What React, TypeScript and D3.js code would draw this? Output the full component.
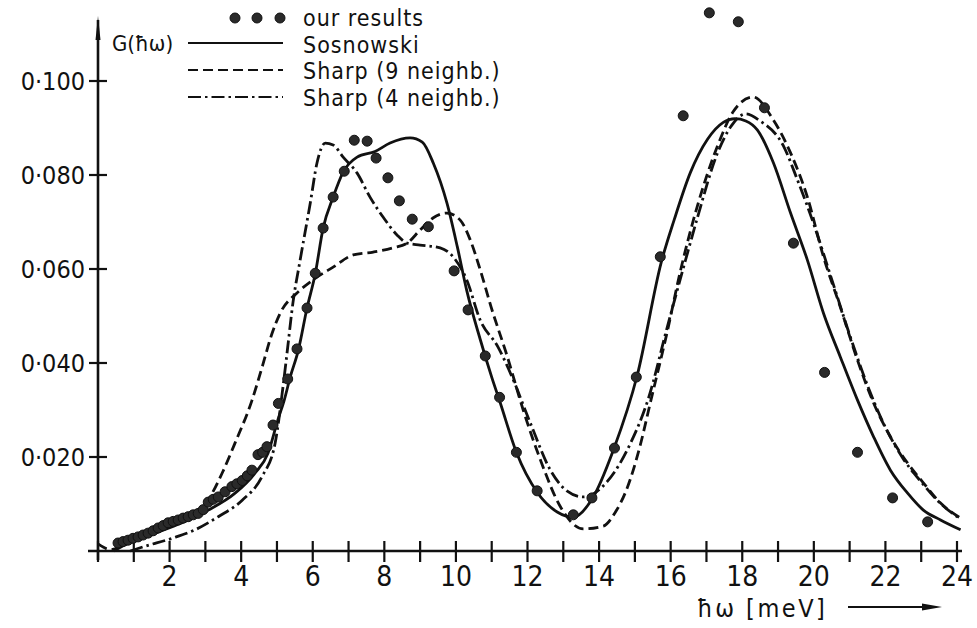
import React from "react";
import * as d3 from "d3";

const xTicks = [0,1,2,3,4,5,6,7,8,9,10,11,12,13,14,15,16,17,18,19,20,21,22,23,24];
const xTickLabels = ["2","4","6","8","10","12","14","16","18","20","22","24"];
const xTickLabelValues = [2,4,6,8,10,12,14,16,18,20,22,24];
const yTicks = [0.02, 0.04, 0.06, 0.08, 0.1];
const yTickLabels = ["0·020", "0·040", "0·060", "0·080", "0·100"];

const legendLabels = ["our results", "Sosnowski", "Sharp (9 neighb.)", "Sharp (4 neighb.)"];

const ourResults: [number, number][] = [
  [0.56,0.0017],[0.7,0.002],[0.84,0.0023],[0.98,0.0027],[1.12,0.003],[1.26,0.0034],[1.4,0.0038],
  [1.54,0.0043],[1.68,0.0049],[1.82,0.0054],[1.96,0.006],[2.1,0.0063],[2.24,0.0066],[2.38,0.007],
  [2.52,0.0073],[2.66,0.0077],[2.8,0.008],[2.94,0.0088],[3.08,0.0104],[3.22,0.011],[3.36,0.0115],
  [3.55,0.0126],[3.74,0.0137],[3.88,0.0143],[4.03,0.015],[4.17,0.016],[4.3,0.0172],[4.47,0.0205],
  [4.6,0.021],[4.72,0.0222],[4.89,0.0268],[5.04,0.0314],[5.3,0.0366],[5.56,0.043],[5.84,0.0517],
  [6.07,0.0591],[6.29,0.0687],[6.57,0.0753],[6.88,0.0808],[7.16,0.0874],[7.52,0.0872],[7.77,0.0836],
  [8.1,0.0794],[8.42,0.0745],[8.78,0.0706],[9.23,0.069],[9.95,0.0596],[10.34,0.0513],[10.82,0.0415],
  [11.22,0.0327],[11.69,0.021],[12.27,0.0128],[13.28,0.0077],[13.8,0.0113],[14.43,0.0219],[15.04,0.037],
  [15.71,0.0626],[16.35,0.0926],[17.08,0.1145],[17.89,0.1126],[18.62,0.0943],[19.43,0.0655],[20.3,0.038],
  [21.22,0.021],[22.2,0.0113],[23.18,0.0062]
];

const sosnowski: [number, number][] = [
  [0.45,0],[0.84,0.0017],[1.6,0.0038],[2.35,0.006],[3.08,0.0087],[3.83,0.0123],[4.39,0.0166],
  [4.75,0.0208],[5.03,0.028],[5.2,0.032],[5.37,0.037],[5.6,0.0428],[5.84,0.0517],[6.07,0.059],
  [6.29,0.0687],[6.57,0.0753],[6.85,0.0806],[7.24,0.0838],[7.74,0.085],[8.16,0.0868],[8.72,0.0879],
  [9.06,0.087],[9.37,0.0825],[9.75,0.074],[10.04,0.0647],[10.3,0.0555],[10.68,0.045],[11.0,0.037],
  [11.24,0.0315],[11.69,0.021],[12.27,0.0125],[12.83,0.0083],[13.28,0.0072],[13.8,0.011],[14.4,0.0215],
  [15.07,0.0375],[15.74,0.0615],[16.1,0.0705],[16.55,0.0805],[17.03,0.0876],[17.47,0.0912],[17.8,0.092],
  [18.1,0.0915],[18.42,0.0896],[18.87,0.0826],[19.35,0.0719],[19.82,0.0619],[20.27,0.0506],[20.74,0.0413],
  [21.22,0.0321],[21.67,0.0243],[22.14,0.0172],[22.62,0.0123],[23.06,0.0087],[23.54,0.0066],[24.1,0.0045]
];

const sharp9: [number, number][] = [
  [0,0.0015],[0.35,0.0003],[0.7,0.0012],[1.2,0.0027],[1.8,0.0045],[2.4,0.0065],[2.9,0.009],[3.13,0.0115],
  [3.47,0.0166],[3.83,0.023],[4.3,0.032],[4.6,0.0395],[4.85,0.046],[5.09,0.0506],[5.56,0.0549],[6.01,0.0577],
  [6.57,0.0604],[7.13,0.063],[7.69,0.0636],[8.25,0.0645],[8.64,0.0655],[9.0,0.0683],[9.37,0.0709],[9.75,0.0719],
  [10.12,0.0704],[10.4,0.0662],[10.68,0.0598],[10.98,0.052],[11.43,0.0415],[11.88,0.03],[12.36,0.0194],
  [12.92,0.0094],[13.56,0.0047],[14.12,0.0053],[14.45,0.0082],[14.79,0.0135],[15.15,0.0225],[15.43,0.0315],
  [15.9,0.0465],[16.27,0.0595],[16.75,0.0735],[17.3,0.086],[17.75,0.0935],[18.3,0.0966],[18.87,0.0917],
  [19.35,0.0847],[19.82,0.0753],[20.27,0.0626],[20.74,0.0519],[21.22,0.0406],[21.67,0.0315],[22.14,0.0243],
  [22.62,0.0187],[23.06,0.0145],[23.54,0.0102],[24.1,0.007]
];

const sharp4: [number, number][] = [
  [0.9,0],[1.31,0.001],[2.07,0.0027],[2.71,0.0045],[3.36,0.0073],[4.03,0.0108],[4.58,0.0158],[4.95,0.023],
  [5.17,0.035],[5.28,0.042],[5.45,0.053],[5.65,0.062],[5.93,0.074],[6.12,0.0826],[6.35,0.0868],[6.57,0.0864],
  [6.85,0.0838],[7.24,0.0804],[7.6,0.0753],[7.97,0.071],[8.36,0.0672],[8.64,0.0655],[9.0,0.0651],[9.56,0.0645],
  [9.92,0.0626],[10.3,0.0577],[10.68,0.0491],[11.17,0.0435],[11.57,0.037],[12.08,0.0272],[12.64,0.0172],
  [13.1,0.0128],[13.56,0.0115],[14.23,0.0148],[14.87,0.0228],[15.38,0.0325],[15.9,0.0475],[16.47,0.0634],
  [16.75,0.071],[17.3,0.0845],[17.7,0.0905],[18.1,0.093],[18.5,0.0915],[19.15,0.0862],[19.54,0.079],
  [20.0,0.0695],[20.5,0.0578],[21.0,0.046],[21.5,0.0352],[22.0,0.0263],[22.5,0.0196],[23.0,0.0147],
  [23.54,0.0101],[24.1,0.0068]
];

const W = 977;
const H = 628;
const FONT = "'DejaVu Sans Condensed', 'DejaVu Sans', sans-serif";

export default function App() {
  const x = d3.scaleLinear().domain([0, 24]).range([98, 957]);
  const y = d3.scaleLinear().domain([0, 0.1]).range([551, 81]);
  const line = d3
    .line<[number, number]>()
    .x((d) => x(d[0]))
    .y((d) => y(d[1]))
    .curve(d3.curveMonotoneX);

  const ink = "#111";
  const sw = 2.8;

  return (
    <div style={{ position: "absolute", left: 0, top: 0 }}>
      <svg width={W} height={H} style={{ display: "block", background: "#fff" }}>
        {/* axes */}
        <line x1={x(0)} x2={x(0)} y1={20} y2={560} stroke={ink} strokeWidth={2.6} />
        <path d={`M${x(0) - 2.5},40 L${x(0)},16 L${x(0) + 2.5},40 Z`} fill={ink} />
        <line x1={88} x2={962} y1={y(0)} y2={y(0)} stroke={ink} strokeWidth={2.6} />
        {xTicks.map((t) => (
          <line key={"xt" + t} x1={x(t)} x2={x(t)} y1={y(0) - 10} y2={y(0) + 11} stroke={ink} strokeWidth={2.2} />
        ))}
        {yTicks.map((t) => (
          <line key={"yt" + t} x1={x(0) - 9} x2={x(0) + 9} y1={y(t)} y2={y(t)} stroke={ink} strokeWidth={2.2} />
        ))}
        {yTicks.map((t, i) => (
          <text key={"yl" + t} x={85} y={y(t)} dy="0.36em" textAnchor="end" fontFamily={FONT} fontSize={25} fill={ink}>
            {yTickLabels[i]}
          </text>
        ))}
        {xTickLabelValues.map((t, i) => (
          <text key={"xl" + t} x={x(t)} y={576} dy="0.36em" textAnchor="middle" fontFamily={FONT} fontSize={28} fill={ink}>
            {xTickLabels[i]}
          </text>
        ))}
        <text x={697} y={608} dy="0.36em" fontFamily={FONT} fontSize={25} fill={ink} letterSpacing={2.5}>
          ħω [meV]
        </text>
        <line x1={848} x2={925} y1={607} y2={607} stroke={ink} strokeWidth={2} />
        <path d="M922,603.5 L942,607 L922,610.5 Z" fill={ink} />

        {/* curves */}
        <path d={line(sosnowski) || ""} fill="none" stroke={ink} strokeWidth={sw} />
        <path d={line(sharp9) || ""} fill="none" stroke={ink} strokeWidth={sw} strokeDasharray="10,5" />
        <path d={line(sharp4) || ""} fill="none" stroke={ink} strokeWidth={sw} strokeDasharray="13,4,2.5,4" />

        {/* points */}
        {ourResults.map((d, i) => (
          <circle key={"p" + i} cx={x(d[0])} cy={y(d[1])} r={5} fill="#2a2a2a" stroke={ink} strokeWidth={1} />
        ))}

        {/* legend */}
        {[235, 257, 280].map((cx) => (
          <circle key={"ld" + cx} cx={cx} cy={18} r={5} fill="#2a2a2a" stroke={ink} strokeWidth={1} />
        ))}
        <text x={112} y={43} dy="0.36em" fontFamily={FONT} fontSize={22} fill={ink}>G(ħω)</text>
        <line x1={188} x2={283} y1={43} y2={43} stroke={ink} strokeWidth={2.2} />
        <line x1={188} x2={283} y1={70} y2={70} stroke={ink} strokeWidth={2.2} strokeDasharray="10,5" />
        <line x1={188} x2={283} y1={97} y2={97} stroke={ink} strokeWidth={2.2} strokeDasharray="13,4,2.5,4" />
        {legendLabels.map((l, i) => (
          <text key={l} x={303} y={18 + i * 26.5} dy="0.36em" fontFamily={FONT} fontSize={23} fill={ink} letterSpacing={1}>
            {l}
          </text>
        ))}
      </svg>
    </div>
  );
}
